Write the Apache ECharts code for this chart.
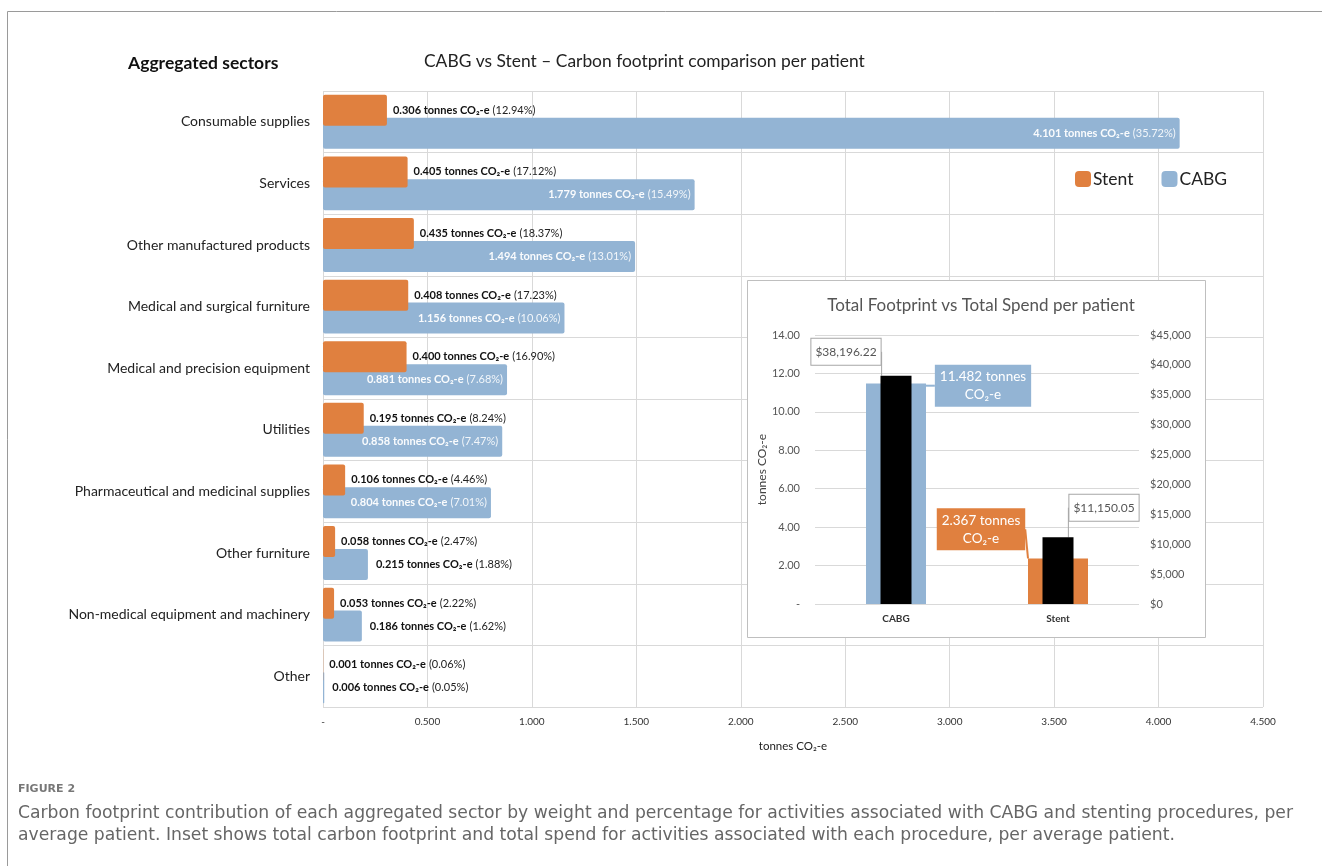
<!DOCTYPE html>
<html><head><meta charset="utf-8">
<script src="https://cdn.jsdelivr.net/npm/echarts@6/dist/echarts.min.js"></script>
<style>html,body{margin:0;padding:0;background:#fff}#c{width:1322px;height:866px}</style>
</head><body><div id="c"></div>
<script>
// ---- data ----
const categories = ['Consumable supplies','Services','Other manufactured products','Medical and surgical furniture','Medical and precision equipment','Utilities','Pharmaceutical and medicinal supplies','Other furniture','Non-medical equipment and machinery','Other'];
const stentValues = [0.306,0.405,0.435,0.408,0.400,0.195,0.106,0.058,0.053,0.001];
const stentPct    = [12.94,17.12,18.37,17.23,16.90,8.24,4.46,2.47,2.22,0.06];
const cabgValues  = [4.101,1.779,1.494,1.156,0.881,0.858,0.804,0.215,0.186,0.006];
const cabgPct     = [35.72,15.49,13.01,10.06,7.68,7.47,7.01,1.88,1.62,0.05];
const insetCategories = ['CABG','Stent'];
const insetFootprint  = [11.482, 2.367];
const insetSpend      = [38196.22, 11150.05];

const ORANGE = '#e0803f', BLUE = '#93b4d4';
const FF = 'Lato, "Open Sans", sans-serif';
const CF = '"DejaVu Sans", "Open Sans", sans-serif';

function lbl(v, p){ return '{b|' + v.toFixed(3) + ' tonnes CO₂-e} {n|(' + p.toFixed(2) + '%)}'; }
const darkRich = {
  b:{fontFamily:FF,fontSize:11,fontWeight:'bold',color:'#111'},
  n:{fontFamily:FF,fontSize:11,color:'#222'}
};
const whiteRich = {
  b:{fontFamily:FF,fontSize:11,fontWeight:'bold',color:'rgba(255,255,255,0.95)'},
  n:{fontFamily:FF,fontSize:11,color:'rgba(255,255,255,0.88)'}
};

const stentData = stentValues.map((v,i)=>({value:v}));
const cabgData = cabgValues.map((v,i)=>{
  if (v < 0.5) return {value:v, label:{position:'right', distance:8, rich:darkRich}};
  return {value:v};
});

const insetFootColors = [BLUE, ORANGE];
const footData = insetFootprint.map((v,i)=>({value:v, itemStyle:{color:insetFootColors[i]},
  label:{backgroundColor:insetFootColors[i]},
  labelLine:{lineStyle:{color:insetFootColors[i], width:2}}}));
const footOffsets = [[87,-108],[-77,-52]];
const spendOffsets = [[-50,-138],[46,-63]];

const chart = echarts.init(document.getElementById('c'));
chart.setOption({
  backgroundColor:'#fff',
  animation:false,
  textStyle:{fontFamily:FF},
  title:[
    {text:'Aggregated sectors', left:123, top:49, textStyle:{fontFamily:FF,fontSize:17.5,fontWeight:'bold',color:'#111'}},
    {text:'CABG vs Stent – Carbon footprint comparison per patient', left:419, top:48, textStyle:{fontFamily:FF,fontSize:17.4,fontWeight:'normal',color:'#222'}},
    {text:'Total Footprint vs Total Spend per patient', left:976, textAlign:'center', top:292, zlevel:1, z:5, textStyle:{fontFamily:FF,fontSize:17,fontWeight:'normal',color:'#555'}},
    {text:'FIGURE 2', left:13, top:779, textStyle:{fontFamily:CF,fontSize:11,fontWeight:'bold',color:'#777'}},
    {text:'Carbon footprint contribution of each aggregated sector by weight and percentage for activities associated with CABG and stenting procedures, per\naverage patient. Inset shows total carbon footprint and total spend for activities associated with each procedure, per average patient.',
     left:13, top:798, textStyle:{fontFamily:CF,fontSize:17.2,fontWeight:'normal',color:'#666',lineHeight:22}}
  ],
  legend:{
    data:['Stent','CABG'], left:1070, top:165, itemWidth:16, itemHeight:16, itemGap:28,
    icon:'roundRect',
    textStyle:{fontFamily:FF,fontSize:17.5,color:'#222',padding:[0,0,0,-3]}
  },
  graphic:[
    {type:'line', shape:{x1:7.5,y1:11.5,x2:1330,y2:11.5}, style:{stroke:'#9a9a9a',lineWidth:1}},
    {type:'line', shape:{x1:7.5,y1:11.5,x2:7.5,y2:870}, style:{stroke:'#9a9a9a',lineWidth:1}},
    {type:'rect', zlevel:1, z:0, shape:{x:747.5,y:280.5,width:458,height:357}, style:{fill:'#fff',stroke:'#bfbfbf',lineWidth:1}}
  ],
  grid:[
    {left:323, right:59, top:91, bottom:159},
    {left:815, right:183, top:335, bottom:262}
  ],
  xAxis:[
    {type:'value', gridIndex:0, min:0, max:4.5, interval:0.5,
     name:'tonnes CO₂-e', nameLocation:'middle', nameGap:33,
     nameTextStyle:{fontFamily:FF,fontSize:11.5,color:'#222'},
     axisLine:{show:false}, axisTick:{show:false},
     axisLabel:{fontFamily:FF,fontSize:10,color:'#333',margin:10,formatter:v=>v===0?'-':v.toFixed(3)},
     splitLine:{show:true,lineStyle:{color:'#d9d9d9'}}},
    {type:'category', gridIndex:1, data:insetCategories, zlevel:1, z:2,
     axisLine:{show:false}, axisTick:{show:false},
     axisLabel:{fontFamily:FF,fontSize:10,fontWeight:'bold',color:'#333',margin:10}},
    {type:'category', gridIndex:1, data:insetCategories, show:false, zlevel:1}
  ],
  yAxis:[
    {type:'category', gridIndex:0, data:categories, inverse:true,
     axisLine:{show:false}, axisTick:{show:false},
     axisLabel:{fontFamily:FF,fontSize:14,color:'#222',margin:13},
     splitLine:{show:true,lineStyle:{color:'#d9d9d9'}}},
    {type:'value', gridIndex:1, min:0, max:14, interval:2, zlevel:1, z:2,
     name:'tonnes CO₂-e', nameLocation:'middle', nameGap:44, nameRotate:90,
     nameTextStyle:{fontFamily:FF,fontSize:12,color:'#444'},
     axisLine:{show:false}, axisTick:{show:false},
     axisLabel:{fontFamily:FF,fontSize:11,color:'#555',margin:15,formatter:v=>v===0?'-':v.toFixed(2)},
     splitLine:{show:true,lineStyle:{color:'#d9d9d9'}}},
    {type:'value', gridIndex:1, min:0, max:45000, interval:5000, position:'right', zlevel:1, z:2,
     axisLine:{show:false}, axisTick:{show:false}, splitLine:{show:false},
     axisLabel:{fontFamily:FF,fontSize:11,color:'#555',margin:11,formatter:v=>'$'+v.toLocaleString('en-US')}}
  ],
  series:[
    {name:'Stent', type:'bar', xAxisIndex:0, yAxisIndex:0, data:stentData, z:3,
     barWidth:31, barGap:'-26%', itemStyle:{color:ORANGE,borderRadius:2},
     label:{show:true, position:'right', distance:6, formatter:p=>lbl(p.value, stentPct[p.dataIndex]), rich:darkRich}},
    {name:'CABG', type:'bar', xAxisIndex:0, yAxisIndex:0, data:cabgData, z:2,
     barWidth:31, barGap:'-26%', itemStyle:{color:BLUE,borderRadius:2},
     label:{show:true, position:'insideRight', distance:4, formatter:p=>lbl(p.value, cabgPct[p.dataIndex]), rich:whiteRich}},
    {name:'Total footprint', type:'bar', xAxisIndex:1, yAxisIndex:1, data:footData, zlevel:1, z:3,
     barWidth:60,
     label:{show:true, position:'inside', formatter:p=>p.value.toFixed(3)+' tonnes\nCO₂-e',
       fontFamily:FF, fontSize:13.5, lineHeight:18, color:'#fff', padding:[3,5], align:'center'},
     labelLine:{show:true},
     labelLayout:p=>({dx:footOffsets[p.dataIndex][0], dy:footOffsets[p.dataIndex][1]})},
    {name:'Total spend', type:'bar', xAxisIndex:2, yAxisIndex:2, data:insetSpend, zlevel:1, z:4,
     barWidth:31, itemStyle:{color:'#000'},
     label:{show:true, position:'inside', formatter:p=>'$'+p.value.toLocaleString('en-US',{minimumFractionDigits:2,maximumFractionDigits:2}),
       fontFamily:FF, fontSize:12, color:'#555', backgroundColor:'#fff', borderColor:'#a6a6a6', borderWidth:1, padding:[7,4]},
     labelLine:{show:true, lineStyle:{color:'#a6a6a6', width:1}},
     labelLayout:p=>({dx:spendOffsets[p.dataIndex][0], dy:spendOffsets[p.dataIndex][1]})}
  ]
});
</script></body></html>
